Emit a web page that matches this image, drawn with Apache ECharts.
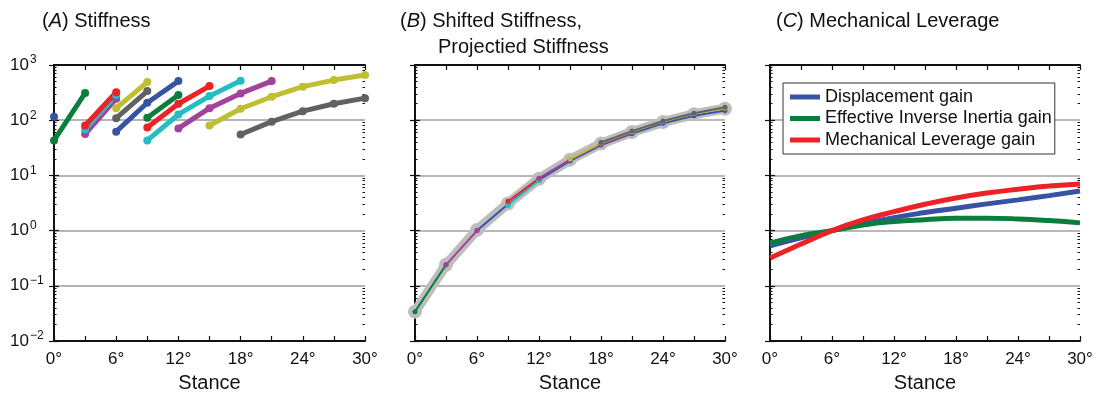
<!DOCTYPE html>
<html><head><meta charset="utf-8">
<script src="https://cdn.jsdelivr.net/npm/echarts@6/dist/echarts.min.js"></script>
<style>html,body{margin:0;padding:0;background:#fff}#c{width:1097px;height:394px}</style>
</head><body><div id="c"></div>
<script>
// ---------- data ----------
const stanceTicks = [0, 3, 6, 9, 12, 15, 18, 21, 24, 27, 30];
const yMin = 0.01, yMax = 1000;

// Panel A: stiffness segments [stance deg, stiffness]
const aBlue1    = [[0, 115]];
const aGreen1   = [[0, 43], [3, 310]];
const aMagenta1 = [[3, 56], [6, 245]];
const aCyan1    = [[3, 68], [6, 285]];
const aRed1     = [[3, 80], [6, 322]];
const aBlue2    = [[6, 62], [9, 207], [12, 511]];
const aGray1    = [[6, 109], [9, 337]];
const aOlive1   = [[6, 165], [9, 490]];
const aCyan2    = [[9, 43], [12, 127], [15, 273], [18, 520]];
const aRed2     = [[9, 74], [12, 199], [15, 415]];
const aGreen2   = [[9, 111], [12, 285]];
const aMagenta2 = [[12, 71], [15, 165], [18, 306], [21, 511]];
const aOlive2   = [[15, 80], [18, 161], [21, 266], [24, 405], [27, 533], [30, 658]];
const aGray2    = [[18, 55], [21, 94], [24, 146], [27, 199], [30, 251]];

// Panel B: projected stiffness + shifted segments
const bProjected = [[0, 0.034], [3, 0.24], [6, 1.03], [9, 3.1], [12, 8.7], [15, 19.3], [18, 37.7], [21, 61], [24, 93], [27, 128], [30, 162]];
const bGreen   = [[0, 0.034], [3, 0.24]];
const bMagenta = [[3, 0.24], [6, 1.0]];
const bBlue    = [[6, 1.0], [9, 3.0], [12, 8.3], [15, 18.3], [18, 35.5], [21, 57], [24, 88], [27, 120], [30, 150]];
const bRed     = [[9, 3.4], [12, 8.9]];
const bCyan    = [[9, 2.9], [12, 8.2]];
const bMagenta2 = [[12, 8.9], [15, 19.3], [18, 37], [21, 60]];
const bOlive   = [[15, 19.8], [18, 38.5], [21, 62], [24, 95], [27, 131], [30, 165]];
const bGray    = [[18, 39.5], [21, 63.5], [24, 97], [27, 134], [30, 172]];

// Panel C: gains at stanceTicks
const cNames = ['Displacement gain', 'Effective Inverse Inertia gain', 'Mechanical Leverage gain'];
const cDisplacement = [0.53, 0.74, 1.0, 1.33, 1.72, 2.12, 2.55, 3.05, 3.6, 4.3, 5.2];
const cInertia      = [0.59, 0.81, 1.0, 1.26, 1.46, 1.58, 1.67, 1.68, 1.63, 1.52, 1.38];
const cLeverage     = [0.32, 0.57, 1.0, 1.56, 2.2, 3.0, 3.9, 4.8, 5.6, 6.4, 7.0];

const titles = ['Stiffness', 'Shifted Stiffness,', 'Projectied Stiffness', 'Mechanical Leverage'];

// ---------- style ----------
const COL = {blue:'#3953a4', green:'#0b7d3c', red:'#ec2227', cyan:'#22bec2', magenta:'#a3429b', olive:'#bfbf33', gray:'#616161', band:'#bdbdbd'};
const FONT = '"Liberation Sans", Arial, Helvetica, sans-serif';
const INK = '#111';
const grids = [
  {left: 54, top: 65, width: 311, height: 276, outerBoundsMode: 'none', containLabel: false},
  {left: 415, top: 65, width: 310, height: 276, outerBoundsMode: 'none', containLabel: false},
  {left: 770, top: 65, width: 310, height: 276, outerBoundsMode: 'none', containLabel: false}
];

const minorVals = [];
for (let d = -2; d <= 2; d++) for (let k = 2; k <= 9; k++) minorVals.push(+(k * Math.pow(10, d)).toPrecision(3));

const xAxes = [], yAxes = [];
grids.forEach((g, gi) => {
  const lineSt = {show: true, lineStyle: {color: INK, width: 2}};
  xAxes.push({
    gridIndex: gi, type: 'value', position: 'bottom', min: 0, max: 30, interval: 3,
    axisLine: lineSt, axisTick: {show: true, inside: true, length: 5, lineStyle: {color: INK, width: 1.2}},
    axisLabel: {fontFamily: FONT, fontSize: 17, color: INK, margin: 10,
      formatter: v => (v % 6 === 0 ? v + '°' : '')},
    splitLine: {show: false},
    name: 'Stance', nameLocation: 'middle', nameGap: 32,
    nameTextStyle: {fontFamily: FONT, fontSize: 20, color: INK}
  });
  xAxes.push({
    gridIndex: gi, type: 'value', position: 'top', min: 0, max: 30, interval: 3,
    axisLine: lineSt, axisTick: {show: true, inside: true, length: 5, lineStyle: {color: INK, width: 1.2}},
    axisLabel: {show: false}, splitLine: {show: false}
  });
  yAxes.push({
    gridIndex: gi, type: 'log', logBase: 10, position: 'left', min: yMin, max: yMax,
    axisLine: lineSt, axisTick: {show: true, inside: true, length: 5, lineStyle: {color: INK, width: 1.2}},
    axisLabel: {show: gi === 0, align: 'left', margin: 44, color: INK,
      formatter: v => {
        const e = Math.round(Math.log10(v));
        return '{b|10}{s|' + (e < 0 ? '\u2212' + (-e) : e) + '}';
      },
      rich: {b: {fontFamily: FONT, fontSize: 17, color: INK}, s: {fontFamily: FONT, fontSize: 12, color: INK, padding: [0, 0, 10, 1]}}
    },
    splitLine: {show: true, lineStyle: {color: gi === 0 ? '#b4b4b4' : '#a0a0a0', width: gi === 0 ? 2 : 1.5}}
  });
  yAxes.push({
    gridIndex: gi, type: 'log', logBase: 10, position: 'right', min: yMin, max: yMax,
    axisLine: lineSt, axisTick: {show: true, inside: true, length: 5, lineStyle: {color: INK, width: 1.2}},
    axisLabel: {show: false}, splitLine: {show: false}
  });
  ['left', 'right'].forEach(p => yAxes.push({
    gridIndex: gi, type: 'log', logBase: 10, position: p, min: yMin, max: yMax,
    axisLine: {show: false},
    axisTick: {show: true, inside: true, length: 2.5, customValues: minorVals, lineStyle: {color: INK, width: 1}},
    axisLabel: {show: false}, splitLine: {show: false}
  }));
});

const series = [];
function seg(gi, data, color, opts) {
  opts = opts || {};
  series.push({
    type: 'line', xAxisIndex: 2 * gi, yAxisIndex: 4 * gi, data: data,
    symbol: 'circle', symbolSize: opts.sym || 8, showSymbol: true,
    lineStyle: {color: color, width: opts.w || 5, cap: 'round'},
    itemStyle: {color: color}, silent: true, animation: false, z: opts.z || 3
  });
}
// Panel A
seg(0, aBlue1, COL.blue);
seg(0, aGreen1, COL.green);
seg(0, aMagenta1, COL.magenta);
seg(0, aCyan1, COL.cyan);
seg(0, aRed1, COL.red);
seg(0, aBlue2, COL.blue);
seg(0, aGray1, COL.gray);
seg(0, aOlive1, COL.olive);
seg(0, aCyan2, COL.cyan);
seg(0, aRed2, COL.red);
seg(0, aGreen2, COL.green);
seg(0, aMagenta2, COL.magenta);
seg(0, aOlive2, COL.olive);
seg(0, aGray2, COL.gray);
// Panel B
seg(1, bProjected, COL.band, {w: 10, sym: 14, z: 2});
seg(1, bBlue, COL.blue, {w: 2, sym: 5});
seg(1, bGreen, COL.green, {w: 2, sym: 5});
seg(1, bMagenta, COL.magenta, {w: 2, sym: 5});
seg(1, bCyan, COL.cyan, {w: 2, sym: 6});
seg(1, bRed, COL.red, {w: 2, sym: 5});
seg(1, bMagenta2, COL.magenta, {w: 2, sym: 5});
seg(1, bOlive, COL.olive, {w: 2, sym: 5});
seg(1, bGray, COL.gray, {w: 2, sym: 5});
// Panel C
[[cDisplacement, COL.blue], [cInertia, COL.green], [cLeverage, COL.red]].forEach((p, i) => {
  series.push({
    name: cNames[i], type: 'line', xAxisIndex: 4, yAxisIndex: 8,
    data: stanceTicks.map((x, j) => [x, p[0][j]]), smooth: 0.5, showSymbol: false, symbol: 'none',
    lineStyle: {color: p[1], width: 5}, itemStyle: {color: p[1]}, silent: true, animation: false, z: 3
  });
});

const rich = {p: {fontFamily: FONT, fontSize: 20, color: INK}, i: {fontFamily: FONT, fontSize: 20, fontStyle: 'italic', color: INK}};
const mkTitle = (text, left, top) => ({text: text, left: left, top: top, padding: 0, textStyle: {rich: rich, fontFamily: FONT, fontSize: 20, fontWeight: 'normal', color: INK}});

const option = {
  animation: false,
  backgroundColor: '#fff',
  title: [
    mkTitle('{p|(}{i|A}{p|) ' + titles[0] + '}', 42, 11),
    mkTitle('{p|(}{i|B}{p|) ' + titles[1] + '}', 400, 11),
    mkTitle('{p|' + titles[2] + '}', 438, 37),
    mkTitle('{p|(}{i|C}{p|) ' + titles[3] + '}', 776, 11)
  ],
  legend: {
    data: cNames, orient: 'vertical', left: 783, top: 83,
    icon: 'rect', itemWidth: 30, itemHeight: 5, itemGap: 3.5,
    padding: [5, 3, 5, 7], backgroundColor: '#fff', borderColor: '#333', borderWidth: 1, borderRadius: 0,
    textStyle: {fontFamily: FONT, fontSize: 18, color: INK}, selectedMode: false
  },
  grid: grids,
  xAxis: xAxes,
  yAxis: yAxes,
  series: series
};
const chart = echarts.init(document.getElementById('c'), null, {renderer: 'canvas'});
chart.setOption(option);
</script>
</body></html>
